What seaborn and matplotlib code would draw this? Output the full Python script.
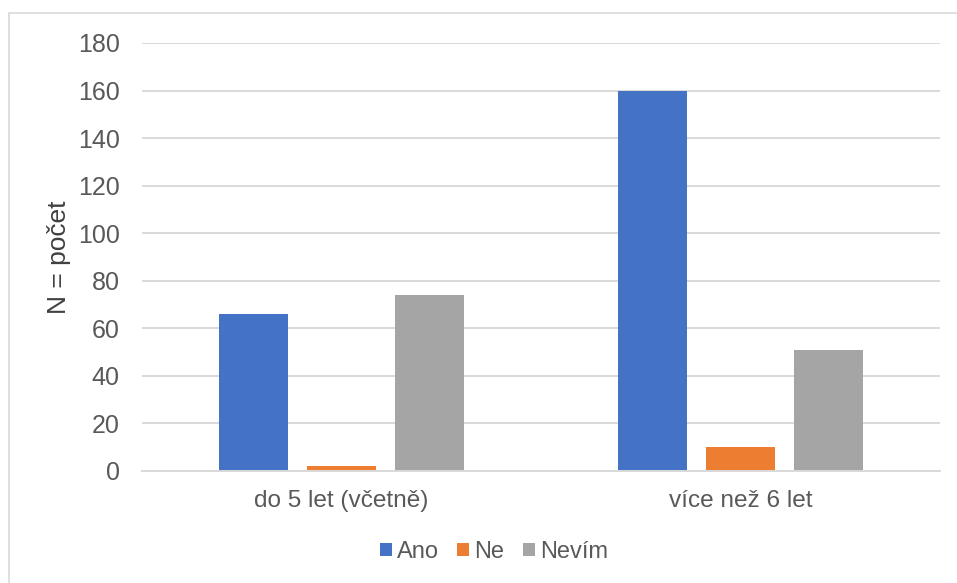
import matplotlib
matplotlib.use("Agg")
import matplotlib.pyplot as plt
import matplotlib.lines as mlines
import seaborn as sns
import pandas as pd

categories = ["do 5 let (včetně)", "více než 6 let"]
series = ["Ano", "Ne", "Nevím"]
ano = [66, 160]
ne = [2, 10]
nevim = [74, 51]
colors = ["#4472C4", "#ED7D31", "#A5A5A5"]
yticks = [0, 20, 40, 60, 80, 100, 120, 140, 160, 180]

rows = []
for s, vals in zip(series, [ano, ne, nevim]):
    for c, v in zip(categories, vals):
        rows.append({"cat": c, "series": s, "val": v})
df = pd.DataFrame(rows)

sns.set_theme(style="white")
plt.rcParams["font.family"] = ["Liberation Sans", "DejaVu Sans"]

fig = plt.figure(figsize=(9.57, 5.83), dpi=100)
ax = fig.add_axes([142/957, 1-471/583, (940-142)/957, (471-43)/583])

sns.barplot(data=df, x="cat", y="val", hue="series", order=categories,
            hue_order=series, palette=colors, width=0.662, gap=0.216,
            saturation=1, ax=ax, legend=True, edgecolor="none", linewidth=0)

ax.set_ylim(0, 180)
ax.set_xlim(-0.5, 1.5)
ax.set_yticks(yticks)
ax.set_yticklabels([str(t) for t in yticks])
ax.yaxis.grid(True, color="#D9D9D9", linewidth=1.4)
ax.set_axisbelow(True)
for sp in ["top", "right", "left"]:
    ax.spines[sp].set_visible(False)
ax.spines["bottom"].set_color("#D9D9D9")
ax.spines["bottom"].set_linewidth(1.4)
ax.tick_params(axis="y", length=0, labelsize=18, labelcolor="#595959", pad=16)
ax.tick_params(axis="x", length=0, labelsize=17.6, labelcolor="#595959", pad=14)
ax.set_xlabel("")
ax.set_ylabel("N = počet", fontsize=19, color="#404040", labelpad=5)

handles, labels = ax.get_legend_handles_labels()
ax.legend(handles, labels, loc="center", bbox_to_anchor=(494/957, 1-552/583),
          bbox_transform=fig.transFigure, ncol=3, frameon=False,
          fontsize=17, labelcolor="#595959", handlelength=0.51,
          handleheight=0.51, handletextpad=0.22, columnspacing=0.76,
          borderpad=0, borderaxespad=0)

fig.add_artist(mlines.Line2D([9/957, 1], [1-13/583, 1-13/583],
                             transform=fig.transFigure, color="#D9D9D9", linewidth=1.2))
fig.add_artist(mlines.Line2D([9/957, 9/957], [0, 1-13/583],
                             transform=fig.transFigure, color="#D9D9D9", linewidth=1.2))

fig.savefig("out.png", dpi=100, facecolor="white")
